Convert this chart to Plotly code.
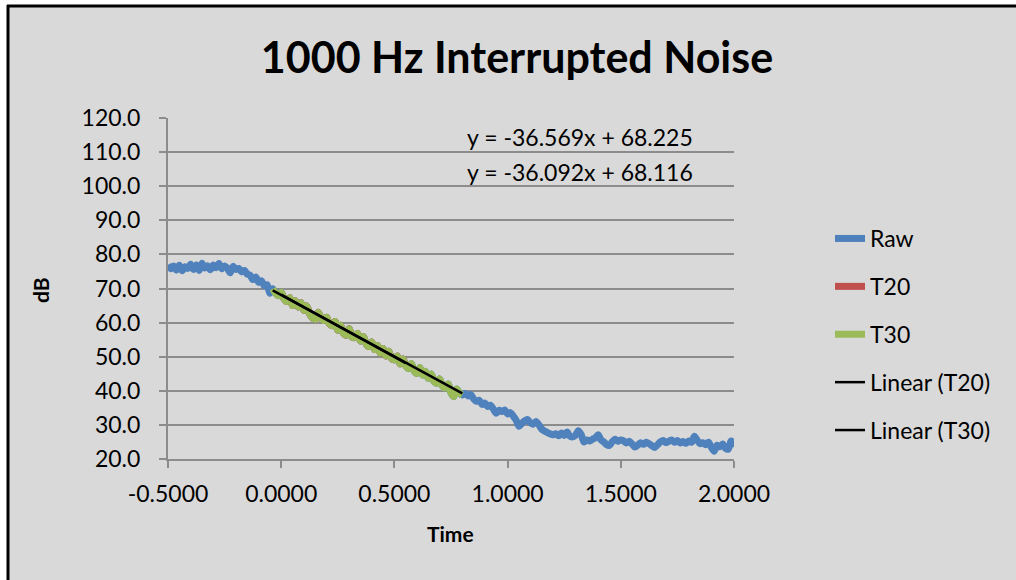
import plotly.graph_objects as go

# ---------------- data ----------------
t_start = -0.5
t_step = 0.0125

raw_db = [
    77.0, 75.8, 76.6, 75.4, 76.8, 75.2, 76.4, 75.9, 77.1, 75.6,
    76.9, 75.3, 77.4, 76.0, 76.7, 75.5, 76.9, 76.1, 77.3, 75.8,
    76.6, 75.9, 74.6, 76.5, 75.6, 75.9, 74.9, 75.3, 74.2, 73.9,
    72.6, 73.4, 71.8, 72.3, 70.8, 71.1, 68.6,
    # decay region (also the T30 range, i = 37 .. 104)
    69.9, 68.6, 67.9, 68.9, 67.0, 66.2, 67.3, 65.0, 66.4, 64.6,
    65.8, 63.6, 64.9, 62.6, 61.4, 60.9, 63.0, 61.5, 60.6, 61.6,
    59.7, 59.1, 60.3, 57.8, 59.2, 56.9, 56.3, 58.2, 55.8, 55.6,
    56.8, 54.6, 55.9, 53.8, 53.0, 54.3, 52.1, 53.3, 51.0, 52.4,
    50.2, 51.6, 49.5, 49.1, 50.2, 47.9, 49.3, 47.4, 46.5, 48.0,
    45.8, 45.1, 46.8, 44.6, 45.7, 43.6, 44.9, 42.7, 42.2, 43.5,
    41.4, 40.8, 42.0, 39.4, 38.3, 40.5, 39.3, 38.8,
    # noise floor
    39.2, 38.5, 38.9, 37.6, 36.9, 37.2, 36.0, 36.4, 35.4, 35.8,
    34.6, 33.4, 34.3, 33.9, 34.4, 33.2, 33.6, 32.6, 31.4, 29.6,
    30.4, 31.2, 31.6, 30.6, 30.2, 31.0, 30.1, 28.8, 28.2, 27.8,
    27.4, 27.1, 27.4, 26.8, 27.6, 26.9, 27.9, 26.7, 26.5, 27.0,
    28.3, 27.2, 25.0, 25.6, 25.3, 25.8, 26.2, 27.1, 25.6, 25.0,
    24.2, 24.0, 25.1, 25.8, 25.2, 25.6, 25.3, 24.7, 25.2, 24.4,
    23.5, 24.1, 24.8, 24.3, 24.9, 24.5, 23.9, 23.4, 24.2, 25.0,
    25.4, 24.8, 25.2, 25.6, 24.9, 25.4, 24.7, 25.1, 24.6, 25.3,
    24.9, 26.7, 25.5, 24.5, 24.8, 24.2, 24.9, 23.4, 22.3, 24.0,
    23.6, 24.4, 23.1, 22.9, 25.3, 23.5,
]
time_s = [round(t_start + t_step * i, 4) for i in range(len(raw_db))]

t30_first, t30_last = 37, 104
t20_first, t20_last = 40, 84
t30_time = time_s[t30_first:t30_last + 1]
t30_db = raw_db[t30_first:t30_last + 1]
t20_time = time_s[t20_first:t20_last + 1]
t20_db = raw_db[t20_first:t20_last + 1]

# trendline coefficients as printed on the chart
t20_slope, t20_intercept = -36.569, 68.225
t30_slope, t30_intercept = -36.092, 68.116

x_tick_vals = [-0.5, 0.0, 0.5, 1.0, 1.5, 2.0]
x_tick_text = ["-0.5000", "0.0000", "0.5000", "1.0000", "1.5000", "2.0000"]

title_text = "1000 Hz Interrupted Noise"
eq_texts = ["y = -36.569x + 68.225", "y = -36.092x + 68.116"]

# ---------------- figure ----------------
FONT = "Lato, 'Open Sans', sans-serif"
W, H = 1016, 580
L, R, T, B = 168, 282, 118, 121
pw, ph = W - L - R, H - T - B


def px_x(p):
    return (p - L) / pw


def px_y(p):
    return (H - B - p) / ph


def trend(xs, m, c):
    x0, x1 = min(xs), max(xs)
    return [x0, x1], [m * x0 + c, m * x1 + c]


wide = dict(shape="spline", smoothing=0.7, width=7)
fig = go.Figure()
fig.add_trace(go.Scatter(x=time_s, y=raw_db, mode="lines", name="Raw",
                         line=dict(color="#4F81BD", **wide), legendgroup="a"))
fig.add_trace(go.Scatter(x=t20_time, y=t20_db, mode="lines", name="T20",
                         line=dict(color="#C0504D", **wide), legendgroup="b"))
fig.add_trace(go.Scatter(x=t30_time, y=t30_db, mode="lines", name="T30",
                         line=dict(color="#9BBB59", **wide), legendgroup="c"))
tx, ty = trend(t20_time, t20_slope, t20_intercept)
fig.add_trace(go.Scatter(x=tx, y=ty, mode="lines", name="Linear (T20)",
                         line=dict(color="black", width=2.5), legendgroup="d"))
tx, ty = trend(t30_time, t30_slope, t30_intercept)
fig.add_trace(go.Scatter(x=tx, y=ty, mode="lines", name="Linear (T30)",
                         line=dict(color="black", width=2.5), legendgroup="e"))

grid = "#8C8C8C"
fig.update_layout(
    width=W, height=H,
    margin=dict(l=L, r=R, t=T, b=B, pad=0),
    paper_bgcolor="#D9D9D9",
    plot_bgcolor="rgba(0,0,0,0)",
    font=dict(family=FONT, size=23, color="black"),
    title=dict(text="<b>" + title_text + "</b>", x=517 / W, xanchor="center",
               y=1 - 58 / H, yanchor="middle", yref="container",
               font=dict(family=FONT, size=43, color="black")),
    xaxis=dict(range=[-0.5, 2.0], tickvals=x_tick_vals, ticktext=x_tick_text,
               showgrid=False, zeroline=False, showline=True, linecolor=grid,
               linewidth=2, ticks="outside", ticklen=7, tickwidth=2,
               tickcolor=grid, ticklabelstandoff=6),
    yaxis=dict(range=[20, 120], dtick=10, tick0=20, tickformat=".1f",
               showgrid=True, gridcolor=grid, gridwidth=2, zeroline=False,
               showline=True, linecolor=grid, linewidth=2, ticks="outside",
               ticklen=7, tickwidth=2, tickcolor=grid, ticklabelstandoff=14),
    legend=dict(x=px_x(830), xanchor="left", y=px_y(217), yanchor="top",
                bgcolor="rgba(0,0,0,0)", tracegroupgap=15,
                font=dict(family=FONT, size=23)),
    showlegend=True,
)

# white margin strips + black frame (frame continues past the right/bottom edges)
fig.add_shape(type="rect", xref="paper", yref="paper", x0=px_x(-20),
              x1=px_x(7), y0=px_y(700), y1=px_y(-20), fillcolor="white",
              line=dict(width=0), layer="below")
fig.add_shape(type="rect", xref="paper", yref="paper", x0=px_x(-20),
              x1=px_x(1100), y0=px_y(5), y1=px_y(-20), fillcolor="white",
              line=dict(width=0), layer="below")
fig.add_shape(type="line", xref="paper", yref="paper", x0=px_x(8),
              x1=px_x(8), y0=px_y(5), y1=px_y(700),
              line=dict(color="black", width=3), layer="below")
fig.add_shape(type="line", xref="paper", yref="paper", x0=px_x(7),
              x1=px_x(1100), y0=px_y(6), y1=px_y(6),
              line=dict(color="black", width=3), layer="below")

fig.add_annotation(text="<b>dB</b>", xref="paper", yref="paper",
                   x=px_x(40), y=px_y(290), textangle=-90, showarrow=False,
                   xanchor="center", yanchor="middle", font=dict(size=21))
fig.add_annotation(text="<b>Time</b>", xref="paper", yref="paper",
                   x=px_x(450), y=px_y(533), showarrow=False,
                   xanchor="center", yanchor="middle", font=dict(size=21))
for txt, yc in zip(eq_texts, [137, 172]):
    fig.add_annotation(text=txt, xref="paper", yref="paper", x=px_x(465),
                       y=px_y(yc), showarrow=False, xanchor="left",
                       yanchor="middle", font=dict(size=23))

fig.write_html("out.html")
